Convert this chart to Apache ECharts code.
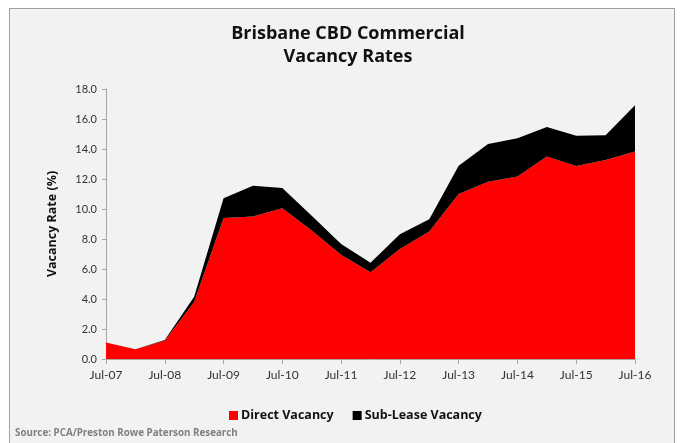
<!DOCTYPE html>
<html>
<head>
<meta charset="utf-8">
<script src="https://cdn.jsdelivr.net/npm/echarts@6/dist/echarts.min.js"></script>
<style>
  html, body { margin: 0; padding: 0; background: #fff; }
  #frame {
    position: absolute; left: 9px; top: 8px; width: 666px; height: 440px;
    border: 1px solid #a0a0a0; background: #f2f2f2; box-sizing: border-box;
  }
  #chart { position: absolute; left: 0; top: 0; width: 681px; height: 443px; }
</style>
</head>
<body>
<div id="frame"></div>
<div id="chart"></div>
<script>
// half-yearly periods, only July is labelled
const periods = ['Jul-07', 'Jan-08', 'Jul-08', 'Jan-09', 'Jul-09', 'Jan-10', 'Jul-10', 'Jan-11',
  'Jul-11', 'Jan-12', 'Jul-12', 'Jan-13', 'Jul-13', 'Jan-14', 'Jul-14', 'Jan-15', 'Jul-15',
  'Jan-16', 'Jul-16']
const directVacancy = [1.1, 0.65, 1.22, 3.8, 9.4, 9.5, 10.05, 8.57, 6.95, 5.78, 7.33, 8.5,
  11.0, 11.82, 12.17, 13.5, 12.87, 13.27, 13.83]
const subLeaseVacancy = [0, 0, 0.05, 0.35, 1.32, 2.05, 1.35, 0.98, 0.71, 0.64, 0.98, 0.81,
  1.88, 2.51, 2.54, 1.97, 2.02, 1.64, 3.09]
const yTicks = { min: 0, max: 18, interval: 2 }

const font = 'Lato, "Open Sans", sans-serif'
const boldFont = '"Open Sans", sans-serif'
const chart = echarts.init(document.getElementById('chart'))
chart.setOption({
  backgroundColor: 'transparent',
  textStyle: { fontFamily: font },
  animation: false,
  title: {
    text: 'Brisbane CBD Commercial\nVacancy Rates',
    left: 343,
    textAlign: 'center',
    top: 17,
    textStyle: { fontSize: 18, fontWeight: 'bold', color: '#111', lineHeight: 23, fontFamily: boldFont }
  },
  legend: {
    left: 224,
    top: 404,
    icon: 'rect',
    itemWidth: 9,
    itemHeight: 9,
    itemGap: 19,
    textStyle: { fontSize: 12.5, fontWeight: 'bold', color: '#111', fontFamily: boldFont, padding: [0, 0, 0, -2] },
    data: ['Direct Vacancy', 'Sub-Lease Vacancy']
  },
  graphic: [{
    type: 'text',
    left: 15,
    top: 428,
    style: { text: 'Source: PCA/Preston Rowe Paterson Research', fill: '#808080', font: 'bold 9.8px ' + boldFont }
  }],
  grid: { left: 106, right: 46, top: 89, bottom: 84 },
  xAxis: {
    type: 'category',
    data: periods,
    boundaryGap: false,
    axisLine: { lineStyle: { color: '#a6a6a6' } },
    axisTick: { interval: 1, length: 5, lineStyle: { color: '#a6a6a6' } },
    axisLabel: { interval: 1, color: '#333', fontSize: 12, margin: 10 }
  },
  yAxis: {
    type: 'value',
    min: yTicks.min,
    max: yTicks.max,
    interval: yTicks.interval,
    name: 'Vacancy Rate (%)',
    nameLocation: 'middle',
    nameGap: 47,
    nameTextStyle: { fontSize: 12.5, fontWeight: 'bold', color: '#111', fontFamily: boldFont },
    axisLine: { show: true, lineStyle: { color: '#a6a6a6' } },
    axisTick: { show: true, length: 4, lineStyle: { color: '#a6a6a6' } },
    axisLabel: { color: '#333', fontSize: 11, margin: 9, formatter: v => v.toFixed(1) },
    splitLine: { show: false }
  },
  series: [
    {
      name: 'Direct Vacancy',
      type: 'line',
      stack: 'vac',
      data: directVacancy,
      symbol: 'none',
      lineStyle: { width: 0 },
      itemStyle: { color: '#ff0000' },
      areaStyle: { color: '#ff0000', opacity: 1 }
    },
    {
      name: 'Sub-Lease Vacancy',
      type: 'line',
      stack: 'vac',
      data: subLeaseVacancy,
      symbol: 'none',
      lineStyle: { width: 0 },
      itemStyle: { color: '#000000' },
      areaStyle: { color: '#000000', opacity: 1 }
    }
  ]
})
</script>
</body>
</html>
